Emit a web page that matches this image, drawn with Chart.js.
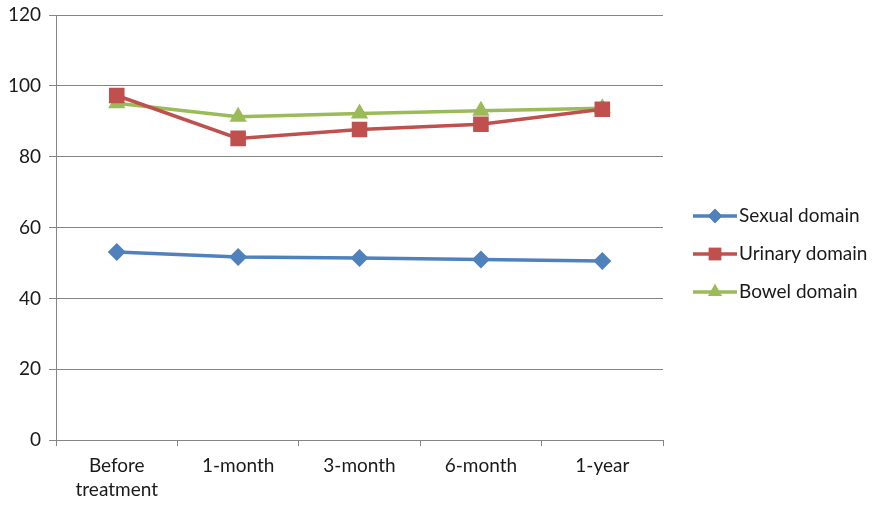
<!DOCTYPE html>
<html>
<head>
<meta charset="utf-8">
<script src="https://cdn.jsdelivr.net/npm/chart.js@4.4.1/dist/chart.umd.min.js"></script>
<style>
  html, body { margin: 0; padding: 0; background: #fff; }
  #wrap { width: 878px; height: 507px; position: relative; }
</style>
</head>
<body>
<div id="wrap"><canvas id="chart"></canvas></div>
<script>
const categorias = [['Before', 'treatment'], '1-month', '3-month', '6-month', '1-year'];
const sexual = [53.1, 51.7, 51.4, 51.0, 50.6];
const urinario = [97.3, 85.2, 87.7, 89.2, 93.4];
const intestinal = [95.1, 91.3, 92.2, 93.0, 93.7];
const nombresSeries = ['Sexual domain', 'Urinary domain', 'Bowel domain'];
const ticksY = [0, 20, 40, 60, 80, 100, 120];

const FUENTE = 'Lato, "Liberation Sans", sans-serif';
const colores = ['#4F81BD', '#C0504D', '#9BBB59'];
const marcadores = ['rectRot', 'rect', 'triangle'];
const radios = [9, 11, 10];

// leyenda propia: linea con marcador al centro, como en Excel
const leyendaPlugin = {
  id: 'leyendaLineas',
  afterDraw(chart) {
    const ctx = chart.ctx;
    const x0 = 693, x1 = 737, yBase = 216, paso = 38;
    chart.data.datasets.forEach((ds, i) => {
      const y = yBase + i * paso;
      ctx.save();
      ctx.strokeStyle = ds.borderColor;
      ctx.lineWidth = 3.5;
      ctx.beginPath();
      ctx.moveTo(x0, y);
      ctx.lineTo(x1, y);
      ctx.stroke();
      ctx.fillStyle = ds.backgroundColor;
      Chart.helpers.drawPoint(ctx, {
        pointStyle: ds.pointStyle,
        radius: ds.pointRadius * 0.8,
        rotation: 0,
        borderWidth: 0
      }, (x0 + x1) / 2, y);
      ctx.fill();
      ctx.fillStyle = '#1a1a1a';
      ctx.font = '19px ' + FUENTE;
      ctx.textBaseline = 'middle';
      ctx.fillText(ds.label, x1 + 2, y);
      ctx.restore();
    });
  }
};

function armarDatasets() {
  return [sexual, urinario, intestinal].map((valores, i) => ({
    label: nombresSeries[i],
    data: valores,
    borderColor: colores[i],
    backgroundColor: colores[i],
    borderWidth: 3.5,
    pointStyle: marcadores[i],
    pointRadius: radios[i],
    pointHoverRadius: radios[i],
    pointBorderWidth: 0,
    tension: 0
  }));
}

const ctx = document.getElementById('chart').getContext('2d');
new Chart(ctx, {
  type: 'line',
  data: { labels: categorias, datasets: armarDatasets() },
  options: {
    responsive: true,
    maintainAspectRatio: false,
    animation: false,
    layout: { padding: { left: 0, right: 215, top: 0, bottom: -3 } },
    plugins: {
      legend: { display: false },
      tooltip: { enabled: false }
    },
    scales: {
      x: {
        offset: true,
        grid: {
          offset: true,
          drawOnChartArea: false,
          drawTicks: true,
          tickLength: 6,
          color: '#868686'
        },
        border: { color: '#868686', width: 1 },
        ticks: {
          color: '#1a1a1a',
          font: { family: FUENTE, size: 19, lineHeight: 1.26 },
          padding: 8,
          maxRotation: 0,
          autoSkip: false
        }
      },
      y: {
        min: 0,
        max: 120,
        afterBuildTicks(scale) {
          scale.ticks = ticksY.map(v => ({ value: v }));
        },
        grid: {
          color: '#868686',
          tickLength: 7,
          lineWidth: 1
        },
        border: { color: '#868686', width: 1 },
        ticks: {
          color: '#1a1a1a',
          font: { family: FUENTE, size: 19, lineHeight: 0.75 },
          padding: 8
        }
      }
    }
  },
  plugins: [leyendaPlugin]
});
</script>
</body>
</html>
